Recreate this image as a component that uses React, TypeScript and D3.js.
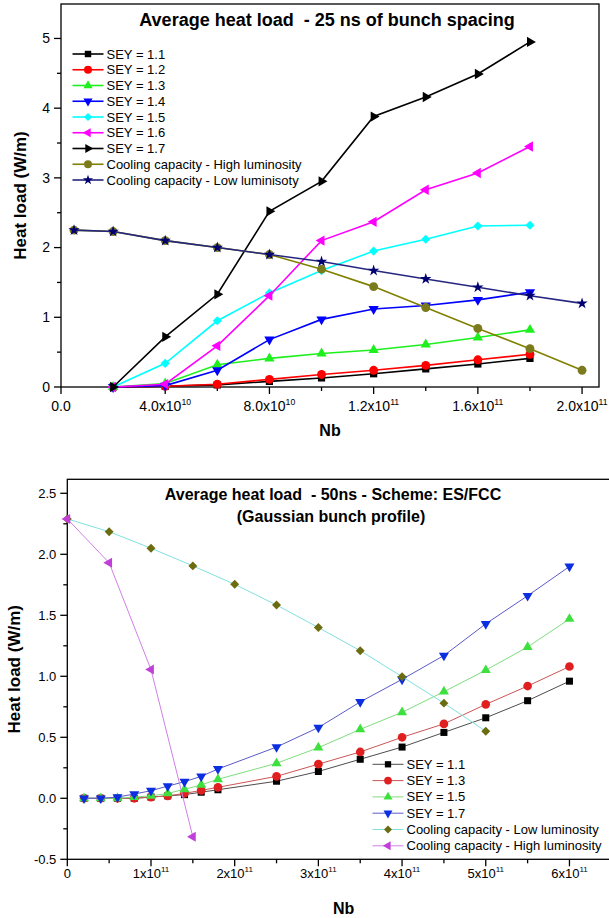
import React from 'react';
import * as d3 from 'd3';

const FONT = '"Liberation Sans", Arial, Helvetica, sans-serif';

// ---------- top chart: 25 ns bunch spacing ----------
const topNb = [2e10, 4e10, 6e10, 8e10, 1e11, 1.2e11, 1.4e11, 1.6e11, 1.8e11];
const sey11 = [0, 0.01, 0.03, 0.08, 0.13, 0.19, 0.26, 0.33, 0.41];
const sey12 = [0, 0.01, 0.04, 0.11, 0.18, 0.24, 0.31, 0.39, 0.47];
const sey13 = [0, 0.05, 0.32, 0.41, 0.48, 0.53, 0.61, 0.71, 0.82];
const sey14 = [0, 0.02, 0.24, 0.68, 0.97, 1.12, 1.17, 1.25, 1.36];
const sey15 = [0, 0.34, 0.95, 1.35, 1.67, 1.95, 2.12, 2.31, 2.32];
const sey16 = [0, 0.04, 0.59, 1.31, 2.1, 2.37, 2.83, 3.07, 3.45];
const sey17 = [0, 0.72, 1.33, 2.52, 2.95, 3.88, 4.16, 4.49, 4.95];
const coolNb = [0.5e10, 2e10, 4e10, 6e10, 8e10, 1e11, 1.2e11, 1.4e11, 1.6e11, 1.8e11, 2e11];
const coolHigh = [2.25, 2.23, 2.1, 2.0, 1.9, 1.69, 1.44, 1.14, 0.84, 0.55, 0.24];
const coolLow = [2.25, 2.23, 2.1, 2.0, 1.9, 1.8, 1.67, 1.55, 1.43, 1.31, 1.2];

const topXTicks = [0, 4e10, 8e10, 1.2e11, 1.6e11, 2e11];
const topXMinor = [2e10, 6e10, 1e11, 1.4e11, 1.8e11];
const topYTicks = [0, 1, 2, 3, 4, 5];
const topYMinor = [0.5, 1.5, 2.5, 3.5, 4.5];

// ---------- bottom chart: 50 ns, ES/FCC ----------
const botNb = [0.2e11, 0.4e11, 0.6e11, 0.8e11, 1e11, 1.2e11, 1.4e11, 1.6e11, 1.8e11, 2.5e11, 3e11, 3.5e11, 4e11, 4.5e11, 5e11, 5.5e11, 6e11];
const b11 = [0, 0, 0, 0, 0.01, 0.02, 0.03, 0.05, 0.07, 0.14, 0.22, 0.32, 0.42, 0.54, 0.66, 0.8, 0.96];
const b13 = [0, 0, 0, 0, 0.01, 0.02, 0.04, 0.065, 0.09, 0.18, 0.28, 0.38, 0.5, 0.61, 0.77, 0.92, 1.08];
const b15 = [0, 0, 0, 0.01, 0.02, 0.04, 0.074, 0.11, 0.156, 0.287, 0.415, 0.565, 0.705, 0.874, 1.05, 1.24, 1.47];
const b17 = [0, 0, 0.01, 0.035, 0.062, 0.1, 0.136, 0.18, 0.24, 0.42, 0.58, 0.79, 0.975, 1.17, 1.43, 1.66, 1.9];
const lowNb = [0, 0.5e11, 1e11, 1.5e11, 2e11, 2.5e11, 3e11, 3.5e11, 4e11, 4.5e11, 5e11];
const lowLum = [2.29, 2.185, 2.05, 1.905, 1.754, 1.584, 1.4, 1.21, 0.997, 0.78, 0.55];
const highNb = [0, 0.5e11, 1e11, 1.5e11];
const highLum = [2.29, 1.93, 1.055, -0.315];

const botXTicks = [0, 1e11, 2e11, 3e11, 4e11, 5e11, 6e11];
const botXMinor = [0.5e11, 1.5e11, 2.5e11, 3.5e11, 4.5e11, 5.5e11];
const botYTicks = [-0.5, 0, 0.5, 1, 1.5, 2, 2.5];
const botYMinor = [-0.25, 0.25, 0.75, 1.25, 1.75, 2.25];

type Shape = 'square' | 'circle' | 'up' | 'down' | 'left' | 'right' | 'diamond' | 'star';
type Series = { name: string; xs: number[]; ys: number[]; line: string; fill: string; shape: Shape; };

const topSeries: Series[] = [
  { name: 'SEY = 1.1', xs: topNb, ys: sey11, line: '#000000', fill: '#000000', shape: 'square' },
  { name: 'SEY = 1.2', xs: topNb, ys: sey12, line: '#ff0000', fill: '#ff0000', shape: 'circle' },
  { name: 'SEY = 1.3', xs: topNb, ys: sey13, line: '#1ef01e', fill: '#1ef01e', shape: 'up' },
  { name: 'SEY = 1.4', xs: topNb, ys: sey14, line: '#0000ff', fill: '#0000ff', shape: 'down' },
  { name: 'SEY = 1.5', xs: topNb, ys: sey15, line: '#00ffff', fill: '#00ffff', shape: 'diamond' },
  { name: 'SEY = 1.6', xs: topNb, ys: sey16, line: '#ff00ff', fill: '#ff00ff', shape: 'left' },
  { name: 'SEY = 1.7', xs: topNb, ys: sey17, line: '#000000', fill: '#000000', shape: 'right' },
  { name: 'Cooling capacity - High luminosity', xs: coolNb, ys: coolHigh, line: '#808000', fill: '#7b7a1d', shape: 'circle' },
  { name: 'Cooling capacity - Low luminisoty', xs: coolNb, ys: coolLow, line: '#262680', fill: '#000070', shape: 'star' },
];

const botSeries: Series[] = [
  { name: 'SEY = 1.1', xs: botNb, ys: b11, line: '#4d4d4d', fill: '#000000', shape: 'square' },
  { name: 'SEY = 1.3', xs: botNb, ys: b13, line: '#cc5555', fill: '#e02020', shape: 'circle' },
  { name: 'SEY = 1.5', xs: botNb, ys: b15, line: '#80dc80', fill: '#3ee03e', shape: 'up' },
  { name: 'SEY = 1.7', xs: botNb, ys: b17, line: '#5a5ac8', fill: '#0a2ee0', shape: 'down' },
  { name: 'Cooling capacity - Low luminosity', xs: lowNb, ys: lowLum, line: '#80e0e0', fill: '#6b6b10', shape: 'diamond' },
  { name: 'Cooling capacity - High luminosity', xs: highNb, ys: highLum, line: '#d080e8', fill: '#c13fd9', shape: 'left' },
];

const shapeDef: Record<Shape, { type: d3.SymbolType; rot: number; size: number }> = {
  square: { type: d3.symbolSquare, rot: 0, size: 52 },
  circle: { type: d3.symbolCircle, rot: 0, size: 62 },
  up: { type: d3.symbolTriangle, rot: 0, size: 46 },
  down: { type: d3.symbolTriangle, rot: 180, size: 46 },
  left: { type: d3.symbolTriangle, rot: -90, size: 46 },
  right: { type: d3.symbolTriangle, rot: 90, size: 46 },
  diamond: { type: d3.symbolSquare, rot: 45, size: 42 },
  star: { type: d3.symbolStar, rot: 0, size: 40 },
};

function Marker({ shape, x, y, fill, scale = 1 }: { shape: Shape; x: number; y: number; fill: string; scale?: number }) {
  const def = shapeDef[shape];
  const d = d3.symbol().type(def.type).size(def.size * scale)() || '';
  return <path d={d} transform={`translate(${x},${y}) rotate(${def.rot})`} fill={fill} />;
}

function sciLabel(v: number, digits: number) {
  if (v === 0) return { base: digits ? (0).toFixed(digits) : '0', exp: '' };
  const e = Math.floor(Math.log10(v) + 1e-9);
  return { base: (v / Math.pow(10, e)).toFixed(digits) + 'x10', exp: String(e) };
}

type ChartProps = {
  series: Series[];
  x: d3.ScaleLinear<number, number>;
  y: d3.ScaleLinear<number, number>;
  top: number; right: number;
  xTicks: number[]; xMinor: number[]; yTicks: number[]; yMinor: number[];
  xDigits: number; yFmt: (v: number) => string;
  tickFont: number; lineWidth: number; markerScale: number;
  xLabelY: number; nbY: number; yLabelX: number;
};

function Axes(p: ChartProps) {
  const x0 = p.x.range()[0];
  const y0 = p.y.range()[0];
  const cx = (x0 + p.right) / 2;
  const cy = (y0 + p.top) / 2;
  return (
    <g fontFamily={FONT}>
      <rect x={x0} y={p.top} width={p.right - x0} height={y0 - p.top} fill="none" stroke="#000" strokeWidth={1.3} />
      {p.xTicks.map(t => (
        <line key={'xt' + t} x1={p.x(t)} x2={p.x(t)} y1={y0} y2={y0 + 7} stroke="#000" strokeWidth={1.3} />
      ))}
      {p.xMinor.map(t => (
        <line key={'xm' + t} x1={p.x(t)} x2={p.x(t)} y1={y0} y2={y0 + 4} stroke="#000" strokeWidth={1.3} />
      ))}
      {p.yTicks.map(t => (
        <line key={'yt' + t} x1={x0 - 7} x2={x0} y1={p.y(t)} y2={p.y(t)} stroke="#000" strokeWidth={1.3} />
      ))}
      {p.yMinor.map(t => (
        <line key={'ym' + t} x1={x0 - 4} x2={x0} y1={p.y(t)} y2={p.y(t)} stroke="#000" strokeWidth={1.3} />
      ))}
      {p.xTicks.map(t => {
        const l = sciLabel(t, p.xDigits);
        return (
          <text key={'xl' + t} x={p.x(t)} y={p.xLabelY} textAnchor="middle" fontSize={p.tickFont}>
            {l.base}
            {l.exp && <tspan dy={-6} fontSize={p.tickFont * 0.62}>{l.exp}</tspan>}
          </text>
        );
      })}
      {p.yTicks.map(t => (
        <text key={'yl' + t} x={x0 - 11} y={p.y(t)} dy="0.35em" textAnchor="end" fontSize={p.tickFont}>{p.yFmt(t)}</text>
      ))}
      <text x={cx} y={p.nbY} textAnchor="middle" fontSize={16} fontWeight="bold">Nb</text>
      <text transform={`translate(${p.yLabelX},${cy}) rotate(-90)`} textAnchor="middle" dy="0.35em" fontSize={17} fontWeight="bold">Heat load (W/m)</text>
    </g>
  );
}

function Plot(p: ChartProps) {
  return (
    <g>
      {p.series.map(s => {
        const pts = s.xs.map((v, i) => [p.x(v), p.y(s.ys[i])] as [number, number]);
        const path = d3.line()(pts) || '';
        return (
          <g key={s.name}>
            <path d={path} fill="none" stroke={s.line} strokeWidth={p.lineWidth} />
            {pts.map((q, i) => <Marker key={i} shape={s.shape} x={q[0]} y={q[1]} fill={s.fill} scale={p.markerScale} />)}
          </g>
        );
      })}
    </g>
  );
}

function Legend({ series, x, y, step, lineWidth, markerScale }: { series: Series[]; x: number; y: number; step: number; lineWidth: number; markerScale: number }) {
  return (
    <g fontFamily={FONT} fontSize={13}>
      {series.map((s, i) => {
        const yy = y + i * step;
        return (
          <g key={s.name}>
            <line x1={x} x2={x + 31} y1={yy} y2={yy} stroke={s.line} strokeWidth={lineWidth} />
            <Marker shape={s.shape} x={x + 15.5} y={yy} fill={s.fill} scale={markerScale * 0.8} />
            <text x={x + 34} y={yy} dy="0.35em">{s.name}</text>
          </g>
        );
      })}
    </g>
  );
}

export default function App() {
  const tx = d3.scaleLinear().domain([0, 2.065e11]).range([61, 599]);
  const ty = d3.scaleLinear().domain([0, 5.5]).range([387, 3.6]);
  const bx = d3.scaleLinear().domain([0, 6.5e11]).range([67.3, 611.3]);
  const by = d3.scaleLinear().domain([-0.5, 2.6]).range([859.3, 481.1]);

  const topProps: ChartProps = {
    series: topSeries, x: tx, y: ty, top: 4, right: 599,
    xTicks: topXTicks, xMinor: topXMinor, yTicks: topYTicks, yMinor: topYMinor,
    xDigits: 1, yFmt: v => String(v), tickFont: 14, lineWidth: 1.6, markerScale: 1,
    xLabelY: 411, nbY: 436, yLabelX: 20,
  };
  const botProps: ChartProps = {
    series: botSeries, x: bx, y: by, top: 479.3, right: 620,
    xTicks: botXTicks, xMinor: botXMinor, yTicks: botYTicks, yMinor: botYMinor,
    xDigits: 0, yFmt: v => v.toFixed(1), tickFont: 13, lineWidth: 1, markerScale: 0.95,
    xLabelY: 878, nbY: 914, yLabelX: 14,
  };

  return (
    <svg width={609} height={918} style={{ position: 'absolute', left: 0, top: 0, background: '#fff' }}>
      <rect width={609} height={918} fill="#fff" />
      <Axes {...topProps} />
      <Plot {...topProps} />
      <text x={327} y={26} textAnchor="middle" fontFamily={FONT} fontSize={18} fontWeight="bold" style={{ whiteSpace: 'pre' }}>Average heat load  - 25 ns of bunch spacing</text>
      <Legend series={topSeries} x={72.5} y={54} step={15.75} lineWidth={1.6} markerScale={1} />

      <Axes {...botProps} />
      <Plot {...botProps} />
      <text x={333} y={500} textAnchor="middle" fontFamily={FONT} fontSize={16} fontWeight="bold" style={{ whiteSpace: 'pre' }}>Average heat load  - 50ns - Scheme: ES/FCC</text>
      <text x={331} y={522} textAnchor="middle" fontFamily={FONT} fontSize={16} fontWeight="bold">(Gaussian bunch profile)</text>
      <Legend series={botSeries} x={372.5} y={764.3} step={16.3} lineWidth={1} markerScale={0.95} />
    </svg>
  );
}
